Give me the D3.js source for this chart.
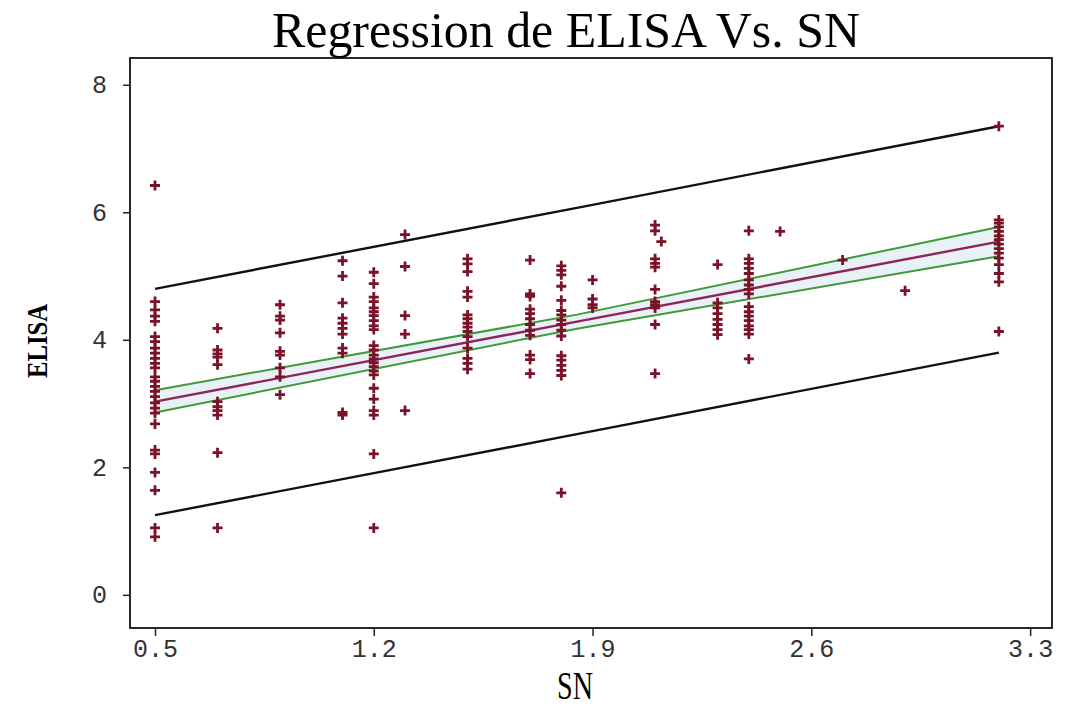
<!DOCTYPE html>
<html>
<head>
<meta charset="utf-8">
<script src="https://cdn.jsdelivr.net/npm/d3@7"></script>
<style>
    body { margin: 0; background: #ffffff; }
    svg { display: block; }
</style>
</head>
<body>
<svg></svg>
<script>
const WIDTH = 1074;
const HEIGHT = 713;

const xTicks = [0.5, 1.2, 1.9, 2.6, 3.3];
const yTicks = [0, 2, 4, 6, 8];

// SN levels and the ELISA readings observed at each one
const snLevels = [0.5, 0.7, 0.9, 1.1, 1.2, 1.3, 1.5, 1.7, 1.8, 1.9, 2.1, 2.12, 2.3, 2.4, 2.5, 2.7, 2.9, 3.2];
const elisaAtLevel = [
    [6.42, 4.60, 4.47, 4.37, 4.29, 4.05, 3.97, 3.87, 3.79, 3.71, 3.63, 3.56, 3.42, 3.35, 3.27, 3.19, 3.11, 3.01, 2.93, 2.85, 2.68, 2.27, 2.21, 1.92, 1.64, 1.05, 0.91],
    [4.18, 3.84, 3.78, 3.73, 3.61, 3.03, 2.95, 2.89, 2.82, 2.23, 1.05],
    [4.55, 4.37, 4.31, 4.11, 3.82, 3.76, 3.56, 3.42, 3.14],
    [5.24, 5.00, 4.58, 4.34, 4.26, 4.18, 4.09, 3.87, 3.79, 2.86, 2.82],
    [5.06, 4.88, 4.67, 4.60, 4.50, 4.44, 4.38, 4.30, 4.22, 4.16, 3.91, 3.84, 3.76, 3.70, 3.64, 3.58, 3.51, 3.45, 3.24, 3.07, 2.89, 2.82, 2.21, 1.05],
    [5.65, 5.15, 4.38, 4.09, 2.89],
    [5.27, 5.19, 5.07, 4.76, 4.67, 4.39, 4.33, 4.26, 4.20, 4.13, 4.05, 3.87, 3.71, 3.63, 3.54],
    [5.25, 4.72, 4.68, 4.48, 4.41, 4.33, 4.24, 4.15, 4.07, 3.76, 3.69, 3.47],
    [5.16, 5.09, 5.02, 4.84, 4.62, 4.46, 4.39, 4.31, 4.24, 4.15, 4.06, 3.75, 3.68, 3.60, 3.52, 3.44, 1.60],
    [4.94, 4.64, 4.55, 4.50],
    [5.80, 5.71, 5.27, 5.20, 5.14, 4.79, 4.60, 4.55, 4.50, 4.24, 3.47],
    [5.54],
    [5.18, 4.58, 4.50, 4.41, 4.32, 4.24, 4.16, 4.08],
    [5.71, 5.27, 5.20, 5.12, 5.04, 4.94, 4.86, 4.79, 4.72, 4.52, 4.44, 4.37, 4.30, 4.22, 4.16, 4.09, 3.70],
    [5.70],
    [5.25],
    [4.77],
    [7.35, 5.88, 5.83, 5.77, 5.70, 5.63, 5.57, 5.50, 5.43, 5.36, 5.28, 5.18, 5.04, 4.91, 4.13]
];

// fitted line with its confidence and prediction limits
const fitSN = [0.5, 1.85, 3.2];
const fitELISA = [3.03, 4.285, 5.54];
const ciLower = [2.86, 4.175, 5.31];
const ciUpper = [3.21, 4.395, 5.77];
const piLower = [1.25, 2.52, 3.80];
const piUpper = [4.80, 6.07, 7.35];

function drawChart(svg) {
    svg.attr("width", WIDTH).attr("height", HEIGHT);

    const x = d3.scaleLinear().domain([0.42, 3.37]).range([130, 1052]);
    const y = d3.scaleLinear().domain([-0.52, 8.42]).range([628, 58]);

    const points = [];
    snLevels.forEach((sn, i) => {
        elisaAtLevel[i].forEach(v => points.push({sn: sn, elisa: v}));
    });

    const band = fitSN.map((sn, i) => ({sn: sn, fit: fitELISA[i], cl: ciLower[i], cu: ciUpper[i], pl: piLower[i], pu: piUpper[i]}));

    // confidence band shading
    svg.append("path")
        .datum(band)
        .attr("fill", "#e2eef4")
        .attr("opacity", 0.8)
        .attr("d", d3.area().x(d => x(d.sn)).y0(d => y(d.cl)).y1(d => y(d.cu)));

    const line = key => d3.line().x(d => x(d.sn)).y(d => y(d[key]));

    [["pl", "#111111", 2.4], ["pu", "#111111", 2.4],
     ["cl", "#3f9a3a", 2.0], ["cu", "#3f9a3a", 2.0],
     ["fit", "#8e2457", 2.4]].forEach(([key, colour, w]) => {
        svg.append("path")
            .datum(band)
            .attr("fill", "none")
            .attr("stroke", colour)
            .attr("stroke-width", w)
            .attr("d", line(key));
    });

    // data points as plus signs
    const s = 5;
    svg.append("g")
        .selectAll("path")
        .data(points)
        .enter().append("path")
        .attr("stroke", "#7a1228")
        .attr("stroke-width", 2.8)
        .attr("fill", "none")
        .attr("d", d => {
            const px = x(d.sn), py = y(d.elisa);
            return `M${px - s},${py}H${px + s}M${px},${py - s}V${py + s}`;
        });

    // frame
    svg.append("rect")
        .attr("x", 130).attr("y", 58)
        .attr("width", 1052 - 130).attr("height", 628 - 58)
        .attr("fill", "none")
        .attr("stroke", "#111111")
        .attr("stroke-width", 1.8);

    const xAxis = svg.append("g")
        .attr("transform", "translate(0,628)")
        .call(d3.axisBottom(x).tickValues(xTicks).tickSize(8).tickPadding(3).tickFormat(d3.format(".1f")));

    const yAxis = svg.append("g")
        .attr("transform", "translate(130,0)")
        .call(d3.axisLeft(y).tickValues(yTicks).tickSize(7).tickPadding(16).tickFormat(d3.format("d")));

    [xAxis, yAxis].forEach(a => {
        a.select(".domain").remove();
        a.selectAll("line").attr("stroke", "#222222").attr("stroke-width", 1.5);
        a.selectAll("text")
            .attr("fill", "#333333")
            .style("font-family", "'Liberation Mono', 'DejaVu Sans Mono', monospace")
            .style("font-size", "25px");
    });

    svg.append("text")
        .attr("x", 566)
        .attr("y", 47)
        .attr("text-anchor", "middle")
        .attr("textLength", 588)
        .attr("lengthAdjust", "spacingAndGlyphs")
        .style("font-family", "'Liberation Serif', 'DejaVu Serif', serif")
        .style("font-size", "50px")
        .text("Regression de ELISA Vs. SN");

    svg.append("text")
        .attr("x", 575)
        .attr("y", 699)
        .attr("text-anchor", "middle")
        .attr("textLength", 36)
        .attr("lengthAdjust", "spacingAndGlyphs")
        .style("font-family", "'Liberation Serif', 'DejaVu Serif', serif")
        .style("font-size", "40px")
        .text("SN");

    svg.append("text")
        .attr("transform", "translate(47,341) rotate(-90)")
        .attr("text-anchor", "middle")
        .attr("textLength", 74)
        .attr("lengthAdjust", "spacingAndGlyphs")
        .style("font-family", "'Liberation Serif', 'DejaVu Serif', serif")
        .style("font-weight", "bold")
        .style("font-size", "29px")
        .text("ELISA");
}

document.addEventListener("DOMContentLoaded", () => drawChart(d3.select("svg")));
</script>
</body>
</html>
